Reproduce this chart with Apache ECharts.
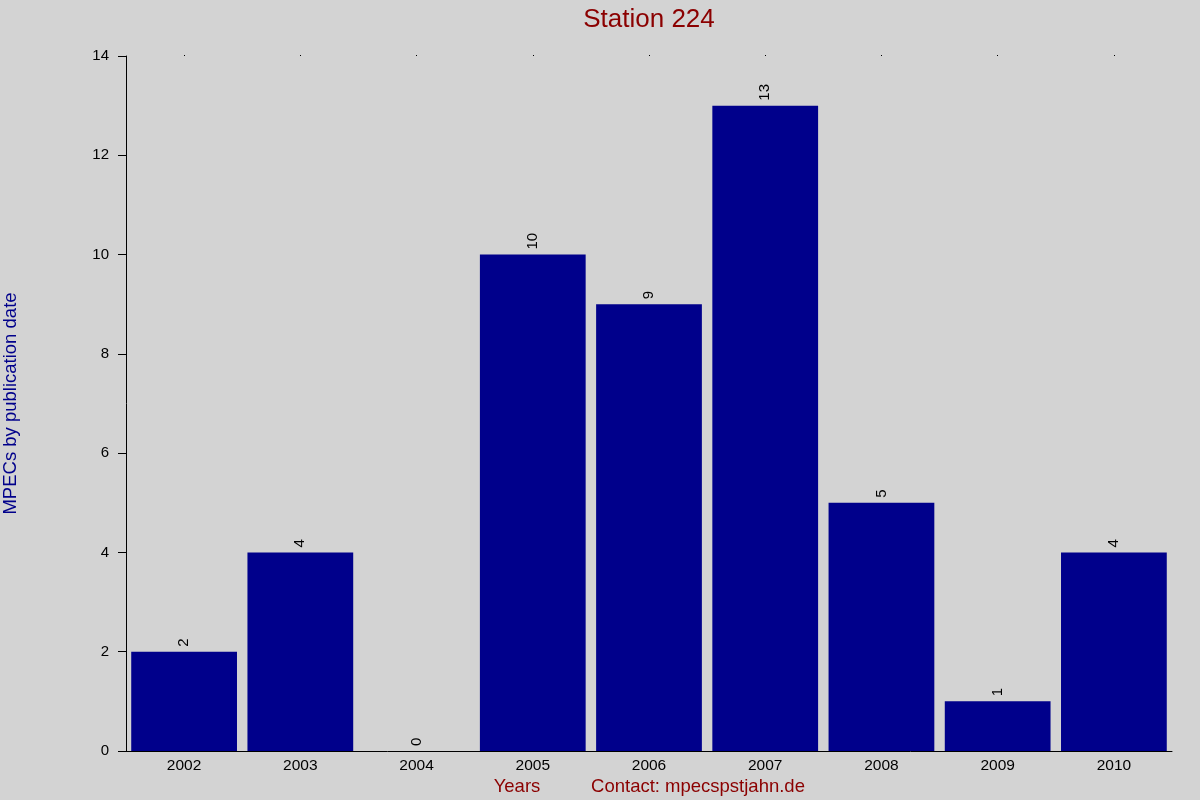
<!DOCTYPE html>
<html>
<head>
<meta charset="utf-8">
<script src="https://cdn.jsdelivr.net/npm/echarts@6/dist/echarts.min.js"></script>
<style>
html,body{margin:0;padding:0;background:#d3d3d3;}
#chart{width:1200px;height:800px;}
</style>
</head>
<body>
<div id="chart"></div>
<script>
var years = ['2002','2003','2004','2005','2006','2007','2008','2009','2010'];
var mpecs = [2, 4, 0, 10, 9, 13, 5, 1, 4];
var yTicks = {min: 0, max: 14, interval: 2};

var chart = echarts.init(document.getElementById('chart'));
var font = 'Liberation Sans, Arial, sans-serif';
chart.setOption({
  backgroundColor: '#d3d3d3',
  animation: false,
  title: [
    {text: 'Station 224', left: 649, top: 7, padding: 0, textAlign: 'center',
     textStyle: {color: '#8b0000', fontSize: 26, fontWeight: 'normal', fontFamily: font}},
    {text: 'Years', left: 517, top: 777, padding: 0, textAlign: 'center',
     textStyle: {color: '#8b0000', fontSize: 18.5, fontWeight: 'normal', fontFamily: font}},
    {text: 'Contact: mpecspstjahn.de', left: 698, top: 777, padding: 0, textAlign: 'center',
     textStyle: {color: '#8b0000', fontSize: 18.5, fontWeight: 'normal', fontFamily: font}}
  ],
  grid: {left: 126, right: 28, top: 56, bottom: 49, containLabel: false, outerBoundsMode: 'none'},
  xAxis: [
    {type: 'category', data: years, position: 'bottom',
     axisLine: {lineStyle: {color: '#000', width: 1}},
     axisTick: {show: false},
     axisLabel: {color: '#000', fontSize: 15.5, fontFamily: font, margin: 7}},
    {type: 'category', data: years, position: 'top',
     axisLine: {show: false},
     axisTick: {show: true, alignWithLabel: true, length: 1, lineStyle: {color: '#000'}},
     axisLabel: {show: false}}
  ],
  yAxis: {
    type: 'value', min: yTicks.min, max: yTicks.max, interval: yTicks.interval,
    name: 'MPECs by publication date', nameLocation: 'middle', nameGap: 106,
    nameTextStyle: {color: '#00008b', fontSize: 18.5, fontFamily: font},
    axisLine: {show: true, lineStyle: {color: '#000', width: 1}},
    axisTick: {show: true, length: 8, lineStyle: {color: '#000'}},
    axisLabel: {color: '#000', fontSize: 15, fontFamily: font, margin: 17},
    splitLine: {show: false}
  },
  series: [{
    type: 'bar', data: mpecs, xAxisIndex: 0,
    barCategoryGap: '9%',
    itemStyle: {color: '#00008b'},
    label: {show: true, position: 'top', rotate: 90, align: 'left', verticalAlign: 'middle',
            distance: 5, color: '#000', fontSize: 15, fontFamily: font}
  }]
});
</script>
</body>
</html>
